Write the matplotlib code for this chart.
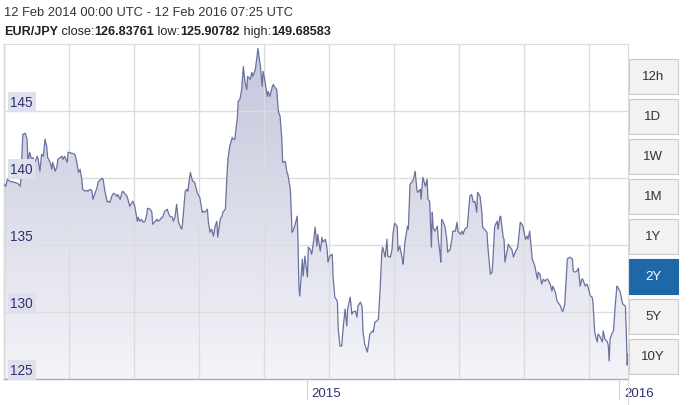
import numpy as np
import matplotlib.pyplot as plt
from matplotlib.patches import PathPatch, Rectangle
from matplotlib.lines import Line2D
from matplotlib.colors import LinearSegmentedColormap
import matplotlib.transforms as mtransforms

plt.rcParams['font.family'] = ['Liberation Sans', 'DejaVu Sans']

# EUR/JPY daily close, days counted from 12 Feb 2014
days = [0, 2, 4, 7, 12, 16, 19, 20, 22, 25, 27, 28, 30, 33, 34, 36, 39, 40, 42, 44,
        46, 48, 50, 51, 54, 56, 57, 60, 62, 63, 66, 68, 69, 71, 74, 75, 80, 83, 85, 87,
        89, 91, 92, 95, 97, 98, 101, 103, 104, 106, 109, 110, 112, 115, 116, 118, 121, 122, 124,
        126, 128, 130, 132, 133, 136, 138, 139, 142, 144, 145, 147, 150, 151, 153, 156, 157,
        159, 161, 163, 165, 167, 168, 171, 173, 174, 177, 179, 180, 183, 185, 186, 188, 191,
        192, 194, 197, 198, 200, 202, 204, 206, 208, 209, 212, 214, 215, 218, 220, 221, 223,
        226, 227, 229,
        232, 233, 235, 238, 239, 241, 243, 245, 247, 249, 250, 253, 255, 256, 259, 261, 262,
        264, 267, 268, 270, 273, 274, 276, 278, 280, 282, 284, 285, 288, 290, 291, 294, 296,
        297, 300, 302, 303, 305, 308, 309, 311, 314, 315, 317, 319, 321, 323, 325, 326, 329,
        331, 332, 335, 337, 338, 340, 343, 344, 345, 346,
        349, 350, 352, 355, 356, 358, 360, 362, 364, 366, 367, 370, 372, 373, 376, 378, 379,
        381, 384, 385, 387, 390, 391, 393, 395, 397, 399, 401, 402, 405, 407, 408, 411, 413,
        414, 417, 419, 420, 422, 425, 426, 428, 431, 432, 434, 436, 438, 440, 442, 443, 446,
        448, 449, 452, 454, 455, 457, 460, 461, 463,
        466, 467, 469, 472, 473, 475, 477, 479, 481, 483, 484, 487, 488, 489, 490, 493, 495,
        496, 498, 500, 501, 502, 504, 507, 508, 510, 511, 512, 514, 516, 518, 519, 522, 524,
        525, 528, 530, 531, 534, 536, 537, 539, 542, 543, 545, 547, 549, 551, 553, 554, 557,
        559, 560, 563, 565, 566, 569, 571, 572, 574, 577, 578,
        580, 581, 584, 585, 586, 589, 590, 592, 594, 596, 598, 600, 601, 604, 606, 607, 610,
        612, 613, 615, 618, 619, 621, 624, 625, 627, 629, 631, 633, 635, 636, 639, 641, 642,
        645, 647, 648, 651, 653, 654, 656, 659, 660, 662, 665, 666, 668, 670, 672, 674, 676,
        677, 680, 682, 683, 686, 688, 689, 691, 694, 695, 697, 700, 701, 703, 706, 707, 708,
        709, 711, 713, 715, 717, 718, 721, 723, 724, 727, 728, 729, 730]

rate = [139.53, 139.38, 139.90, 139.75, 139.68, 139.60, 139.38, 140.20, 143.26, 143.33,
        142.89, 141.17, 141.92, 141.24, 141.54, 141.17, 141.62, 141.39, 140.50, 141.77,
        141.62, 142.89, 142.36, 141.54, 141.17, 140.65, 141.17, 140.50, 140.87, 141.39,
        141.54, 141.62, 141.39, 141.62, 141.17, 141.92, 141.84, 141.77, 141.24, 140.42,
        140.65, 139.90, 139.16, 139.01, 139.08, 139.01, 139.16, 139.01, 138.41, 138.78,
        139.31, 139.68, 139.83, 139.98, 139.90, 139.01, 138.19, 138.26, 138.19,
        138.63, 138.86, 138.78, 138.63, 138.78, 138.41, 138.93, 139.01, 138.78, 138.63,
        138.41, 137.89, 138.19, 138.26, 137.89, 136.77, 137.07, 136.77, 136.92, 136.70,
        136.77, 137.29, 137.74, 137.67, 137.44, 136.55, 136.77, 136.92, 136.77, 136.92,
        137.07, 137.15, 137.52, 137.67, 137.44, 137.15, 137.07, 136.77, 137.07, 138.04,
        136.77, 136.40, 136.18, 136.70, 139.01, 139.16, 139.01, 140.42, 139.90, 139.75,
        139.68, 138.93, 138.78, 138.56,
        137.44, 137.52, 137.44, 137.67, 136.77, 135.95, 136.18, 135.66, 136.40, 136.77,
        135.58, 136.92, 137.15, 137.44, 137.67, 140.42, 141.39, 142.36, 143.03, 142.89,
        142.89, 144.52, 145.72, 145.87, 146.61, 148.32, 147.13, 146.61, 147.58, 147.36,
        147.88, 147.58, 148.10, 149.07, 149.67, 148.32, 146.83, 147.95, 147.36, 146.09,
        146.46, 146.09, 146.83, 146.98, 146.76, 146.61, 144.97, 144.60, 142.89, 141.17,
        141.24, 140.42, 140.28, 139.16, 135.95, 136.03, 136.40, 137.15, 135.21, 131.93,
        131.19,
        133.94, 132.68, 134.17, 132.60, 134.84, 134.69, 134.31, 135.21, 136.33, 134.91,
        135.80, 134.54, 135.58, 135.21, 135.43, 134.69, 133.72, 134.17, 134.31, 132.60,
        131.11, 130.81, 128.73, 127.46, 127.46, 128.95, 130.22, 128.95, 130.22, 131.11,
        129.84, 129.99, 130.07, 129.62, 130.44, 130.74, 130.37, 128.50, 127.61, 127.01,
        127.39, 128.35, 128.58, 128.50, 129.25, 129.32, 129.47, 131.71, 134.46, 134.84,
        134.09, 135.43, 134.17, 134.09, 134.69, 135.80, 136.62, 136.40, 134.54, 134.91,
        133.94, 133.57, 135.21, 136.40, 136.18, 139.53, 139.68, 139.90, 140.50, 139.16,
        138.93, 139.16, 138.41, 139.31, 140.05, 139.38, 139.90, 138.41, 138.26, 134.84,
        137.44, 136.33, 136.03, 136.40, 135.43, 134.46, 133.72, 136.92, 136.70, 136.33,
        135.43, 134.46, 134.69, 135.43, 136.03, 136.03, 136.70, 136.03, 135.80, 136.03,
        135.80, 136.18, 136.33, 137.15, 138.63, 138.78, 138.19, 138.26, 137.44, 138.93,
        138.63, 137.44, 136.33, 136.10, 135.95, 134.91, 132.82, 132.97, 133.94, 136.40,
        136.77, 136.18,
        137.07, 137.15, 135.58, 135.43, 133.72, 134.69, 135.06, 134.84, 134.69, 134.09,
        134.46, 134.69, 134.84, 136.70, 136.55, 136.40, 135.43, 135.66, 135.43, 136.03,
        133.94, 133.79, 133.42, 132.45, 132.97, 132.82, 132.08, 132.45, 132.30, 132.45,
        132.45, 132.08, 131.56, 131.93, 131.48, 130.81, 130.74, 130.44, 130.07, 130.07,
        130.59, 133.94, 134.02, 134.09, 133.94, 133.05, 132.97, 133.05, 133.27, 131.93,
        132.45, 132.45, 131.93, 132.08, 131.93, 131.19, 131.11, 130.74, 128.50, 127.76,
        128.35, 128.20, 127.76, 128.58, 127.98, 127.76, 127.46, 126.34, 127.98, 128.35,
        128.58, 130.44, 131.93, 131.86, 131.48, 130.81, 130.59, 130.44, 128.50, 126.04,
        126.86]

y_ticks = [125, 130, 135, 140, 145]
year_ticks = [354, 720]
year_labels = ['2015', '2016']
grid_days = [0, 76, 152, 228, 304, 380, 456, 532, 608, 684]
buttons = ['12h', '1D', '1W', '1M', '1Y', '2Y', '5Y', '10Y']
active = '2Y'

W, H = 697, 406
fig = plt.figure(figsize=(W / 100, H / 100), dpi=100)
ax = fig.add_axes([4 / W, 26 / H, 624 / W, 335 / H])
ax.set_xlim(0, 730)
ax.set_ylim(125, 150)

# gradient fill under the line
grad = np.linspace(1, 0, 256).reshape(-1, 1)
cmap = LinearSegmentedColormap.from_list('g', ['#f4f4f9', '#c3c6db'])
im = ax.imshow(grad, extent=[0, 730, 125, 150], aspect='auto', cmap=cmap,
               origin='upper', zorder=1)
poly = ax.fill_between(days, rate, 125, facecolor='none', edgecolor='none')
clip = PathPatch(poly.get_paths()[0], transform=ax.transData,
                 facecolor='none', edgecolor='none')
ax.add_patch(clip)
im.set_clip_path(clip)

ax.plot(days, rate, color='#6a729f', lw=0.9, zorder=3)

# grid
ax.set_xticks(grid_days, minor=True)
ax.set_yticks(y_ticks)
ax.grid(which='minor', axis='x', color='#dcdcdc', lw=1, zorder=2)
ax.grid(which='major', axis='y', color='#dcdcdc', lw=1, zorder=2)
ax.set_axisbelow(False)
ax.set_xticks(year_ticks)
ax.tick_params(axis='x', which='major', length=14.4, width=0.8, color='#d0d0d0',
               labelbottom=False, direction='out')
ax.tick_params(axis='x', which='minor', length=0)
ax.tick_params(axis='y', length=0, labelleft=False)

for s in ['top', 'right']:
    ax.spines[s].set_color('#dddddd')
    ax.spines[s].set_linewidth(0.8)
ax.spines['left'].set_color('#b3b6d4')
ax.spines['bottom'].set_color('#a6aad0')
ax.spines['left'].set_linewidth(1)
ax.spines['bottom'].set_linewidth(1)

# y labels inside the plot
trans = mtransforms.blended_transform_factory(ax.transAxes, ax.transData)
for v in y_ticks:
    ax.annotate(str(v), xy=(0, v), xycoords=trans, xytext=(4.5, 1.5),
                textcoords='offset points', fontsize=9.8, color='#2e3170',
                va='bottom', ha='left', zorder=5,
                bbox=dict(boxstyle='square,pad=0.2', fc='#dfe0ee', ec='none'))

# year labels
for d, lab in zip(year_ticks, year_labels):
    ax.annotate(lab, xy=(d, 0), xycoords=('data', 'axes fraction'), xytext=(3.5, -10),
                textcoords='offset points', fontsize=9.5, color='#2e3170',
                va='center', ha='left')

# right border line down to the bottom
fig.add_artist(Line2D([628 / W, 628 / W], [0, 1 - 45 / H], color='#dddddd', lw=0.8))

# header
fig.text(4 / W, 1 - 13 / H, '12 Feb 2014 00:00 UTC - 12 Feb 2016 07:25 UTC',
         fontsize=9.3, color='#333333', va='center')
r = fig.canvas.get_renderer()
x = 4
for s, w in [('EUR/JPY', 'bold'), (' close:', 'normal'), ('126.83761', 'bold'),
             (' low:', 'normal'), ('125.90782', 'bold'), (' high:', 'normal'),
             ('149.68583', 'bold')]:
    t = fig.text(x / W, 1 - 32 / H, s, fontsize=9.1, fontweight=w, color='#222222',
                 va='center')
    x = t.get_window_extent(r).x1

# range buttons
for i, b in enumerate(buttons):
    top = 60 + 40 * i
    on = b == active
    fig.add_artist(Rectangle((628.5 / W, 1 - (top + 35) / H), 49 / W, 35 / H,
                             transform=fig.transFigure,
                             fc='#1f68a8' if on else '#f2f2f2',
                             ec='#1f68a8' if on else '#cccccc', lw=0.8))
    fig.text(653 / W, 1 - (top + 17.5) / H, b, fontsize=9.5,
             color='white' if on else '#333333', ha='center', va='center')

fig.savefig('out.png', dpi=100)
